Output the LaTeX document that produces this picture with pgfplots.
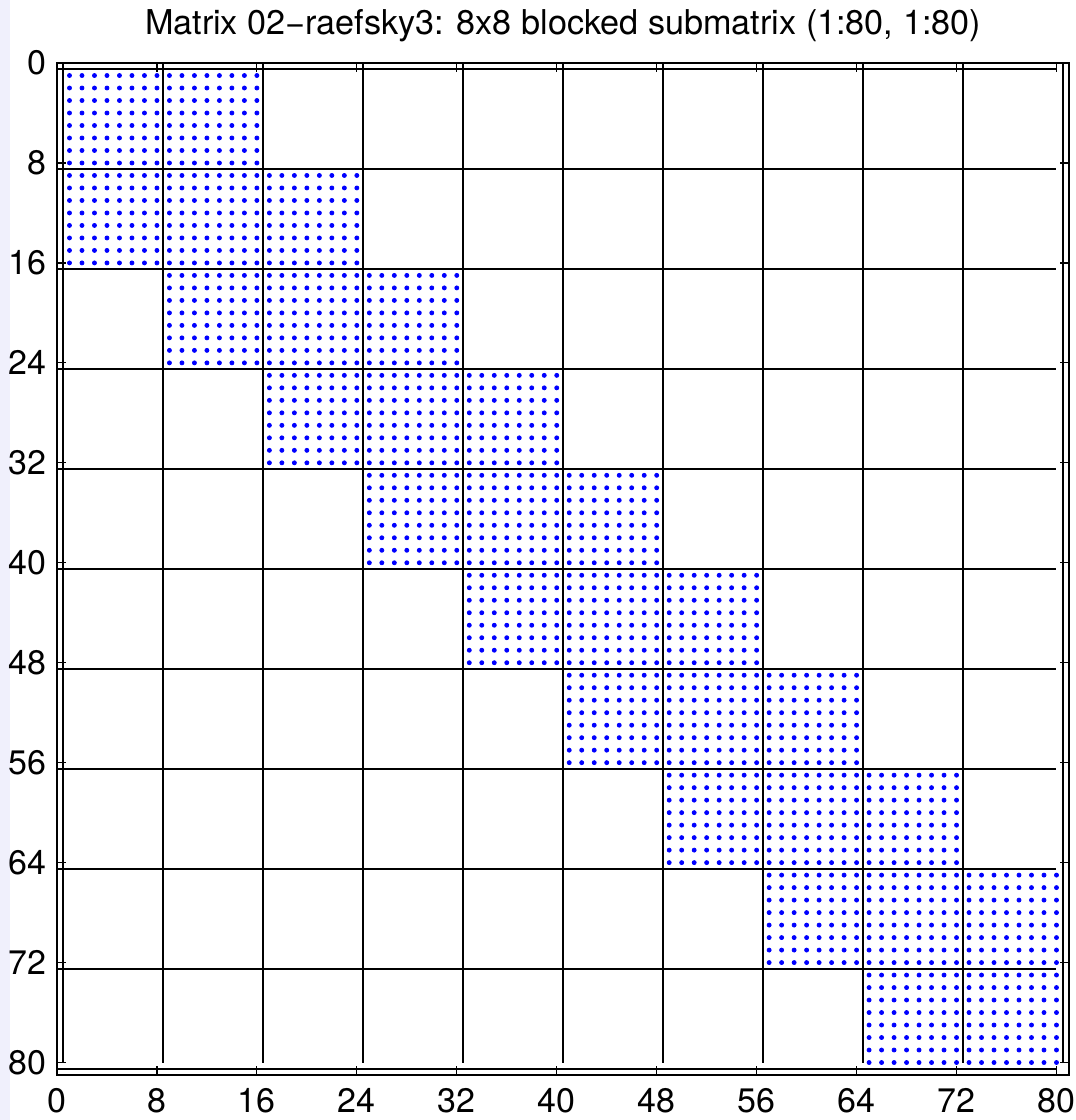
\documentclass[border=0pt]{standalone}
\usepackage{pgfplots}
\pgfplotsset{compat=1.18}
\usepackage{pgfplotstable}
\usepackage{fontspec}
\setmainfont{TeX Gyre Heros}
\definecolor{lav}{RGB}{240,240,252}
\definecolor{dotblue}{RGB}{0,0,255}

% nonzero pattern: row index, then the column indices of its nonzeros
\pgfplotstableread{
1 1 2 3 4 5 6 7 8 9 10 11 12 13 14 15 16 nan nan nan nan nan nan nan nan
2 1 2 3 4 5 6 7 8 9 10 11 12 13 14 15 16 nan nan nan nan nan nan nan nan
3 1 2 3 4 5 6 7 8 9 10 11 12 13 14 15 16 nan nan nan nan nan nan nan nan
4 1 2 3 4 5 6 7 8 9 10 11 12 13 14 15 16 nan nan nan nan nan nan nan nan
5 1 2 3 4 5 6 7 8 9 10 11 12 13 14 15 16 nan nan nan nan nan nan nan nan
6 1 2 3 4 5 6 7 8 9 10 11 12 13 14 15 16 nan nan nan nan nan nan nan nan
7 1 2 3 4 5 6 7 8 9 10 11 12 13 14 15 16 nan nan nan nan nan nan nan nan
8 1 2 3 4 5 6 7 8 9 10 11 12 13 14 15 16 nan nan nan nan nan nan nan nan
9 1 2 3 4 5 6 7 8 9 10 11 12 13 14 15 16 17 18 19 20 21 22 23 24
10 1 2 3 4 5 6 7 8 9 10 11 12 13 14 15 16 17 18 19 20 21 22 23 24
11 1 2 3 4 5 6 7 8 9 10 11 12 13 14 15 16 17 18 19 20 21 22 23 24
12 1 2 3 4 5 6 7 8 9 10 11 12 13 14 15 16 17 18 19 20 21 22 23 24
13 1 2 3 4 5 6 7 8 9 10 11 12 13 14 15 16 17 18 19 20 21 22 23 24
14 1 2 3 4 5 6 7 8 9 10 11 12 13 14 15 16 17 18 19 20 21 22 23 24
15 1 2 3 4 5 6 7 8 9 10 11 12 13 14 15 16 17 18 19 20 21 22 23 24
16 1 2 3 4 5 6 7 8 9 10 11 12 13 14 15 16 17 18 19 20 21 22 23 24
17 9 10 11 12 13 14 15 16 17 18 19 20 21 22 23 24 25 26 27 28 29 30 31 32
18 9 10 11 12 13 14 15 16 17 18 19 20 21 22 23 24 25 26 27 28 29 30 31 32
19 9 10 11 12 13 14 15 16 17 18 19 20 21 22 23 24 25 26 27 28 29 30 31 32
20 9 10 11 12 13 14 15 16 17 18 19 20 21 22 23 24 25 26 27 28 29 30 31 32
21 9 10 11 12 13 14 15 16 17 18 19 20 21 22 23 24 25 26 27 28 29 30 31 32
22 9 10 11 12 13 14 15 16 17 18 19 20 21 22 23 24 25 26 27 28 29 30 31 32
23 9 10 11 12 13 14 15 16 17 18 19 20 21 22 23 24 25 26 27 28 29 30 31 32
24 9 10 11 12 13 14 15 16 17 18 19 20 21 22 23 24 25 26 27 28 29 30 31 32
25 17 18 19 20 21 22 23 24 25 26 27 28 29 30 31 32 33 34 35 36 37 38 39 40
26 17 18 19 20 21 22 23 24 25 26 27 28 29 30 31 32 33 34 35 36 37 38 39 40
27 17 18 19 20 21 22 23 24 25 26 27 28 29 30 31 32 33 34 35 36 37 38 39 40
28 17 18 19 20 21 22 23 24 25 26 27 28 29 30 31 32 33 34 35 36 37 38 39 40
29 17 18 19 20 21 22 23 24 25 26 27 28 29 30 31 32 33 34 35 36 37 38 39 40
30 17 18 19 20 21 22 23 24 25 26 27 28 29 30 31 32 33 34 35 36 37 38 39 40
31 17 18 19 20 21 22 23 24 25 26 27 28 29 30 31 32 33 34 35 36 37 38 39 40
32 17 18 19 20 21 22 23 24 25 26 27 28 29 30 31 32 33 34 35 36 37 38 39 40
33 25 26 27 28 29 30 31 32 33 34 35 36 37 38 39 40 41 42 43 44 45 46 47 48
34 25 26 27 28 29 30 31 32 33 34 35 36 37 38 39 40 41 42 43 44 45 46 47 48
35 25 26 27 28 29 30 31 32 33 34 35 36 37 38 39 40 41 42 43 44 45 46 47 48
36 25 26 27 28 29 30 31 32 33 34 35 36 37 38 39 40 41 42 43 44 45 46 47 48
37 25 26 27 28 29 30 31 32 33 34 35 36 37 38 39 40 41 42 43 44 45 46 47 48
38 25 26 27 28 29 30 31 32 33 34 35 36 37 38 39 40 41 42 43 44 45 46 47 48
39 25 26 27 28 29 30 31 32 33 34 35 36 37 38 39 40 41 42 43 44 45 46 47 48
40 25 26 27 28 29 30 31 32 33 34 35 36 37 38 39 40 41 42 43 44 45 46 47 48
41 33 34 35 36 37 38 39 40 41 42 43 44 45 46 47 48 49 50 51 52 53 54 55 56
42 33 34 35 36 37 38 39 40 41 42 43 44 45 46 47 48 49 50 51 52 53 54 55 56
43 33 34 35 36 37 38 39 40 41 42 43 44 45 46 47 48 49 50 51 52 53 54 55 56
44 33 34 35 36 37 38 39 40 41 42 43 44 45 46 47 48 49 50 51 52 53 54 55 56
45 33 34 35 36 37 38 39 40 41 42 43 44 45 46 47 48 49 50 51 52 53 54 55 56
46 33 34 35 36 37 38 39 40 41 42 43 44 45 46 47 48 49 50 51 52 53 54 55 56
47 33 34 35 36 37 38 39 40 41 42 43 44 45 46 47 48 49 50 51 52 53 54 55 56
48 33 34 35 36 37 38 39 40 41 42 43 44 45 46 47 48 49 50 51 52 53 54 55 56
49 41 42 43 44 45 46 47 48 49 50 51 52 53 54 55 56 57 58 59 60 61 62 63 64
50 41 42 43 44 45 46 47 48 49 50 51 52 53 54 55 56 57 58 59 60 61 62 63 64
51 41 42 43 44 45 46 47 48 49 50 51 52 53 54 55 56 57 58 59 60 61 62 63 64
52 41 42 43 44 45 46 47 48 49 50 51 52 53 54 55 56 57 58 59 60 61 62 63 64
53 41 42 43 44 45 46 47 48 49 50 51 52 53 54 55 56 57 58 59 60 61 62 63 64
54 41 42 43 44 45 46 47 48 49 50 51 52 53 54 55 56 57 58 59 60 61 62 63 64
55 41 42 43 44 45 46 47 48 49 50 51 52 53 54 55 56 57 58 59 60 61 62 63 64
56 41 42 43 44 45 46 47 48 49 50 51 52 53 54 55 56 57 58 59 60 61 62 63 64
57 49 50 51 52 53 54 55 56 57 58 59 60 61 62 63 64 65 66 67 68 69 70 71 72
58 49 50 51 52 53 54 55 56 57 58 59 60 61 62 63 64 65 66 67 68 69 70 71 72
59 49 50 51 52 53 54 55 56 57 58 59 60 61 62 63 64 65 66 67 68 69 70 71 72
60 49 50 51 52 53 54 55 56 57 58 59 60 61 62 63 64 65 66 67 68 69 70 71 72
61 49 50 51 52 53 54 55 56 57 58 59 60 61 62 63 64 65 66 67 68 69 70 71 72
62 49 50 51 52 53 54 55 56 57 58 59 60 61 62 63 64 65 66 67 68 69 70 71 72
63 49 50 51 52 53 54 55 56 57 58 59 60 61 62 63 64 65 66 67 68 69 70 71 72
64 49 50 51 52 53 54 55 56 57 58 59 60 61 62 63 64 65 66 67 68 69 70 71 72
65 57 58 59 60 61 62 63 64 65 66 67 68 69 70 71 72 73 74 75 76 77 78 79 80
66 57 58 59 60 61 62 63 64 65 66 67 68 69 70 71 72 73 74 75 76 77 78 79 80
67 57 58 59 60 61 62 63 64 65 66 67 68 69 70 71 72 73 74 75 76 77 78 79 80
68 57 58 59 60 61 62 63 64 65 66 67 68 69 70 71 72 73 74 75 76 77 78 79 80
69 57 58 59 60 61 62 63 64 65 66 67 68 69 70 71 72 73 74 75 76 77 78 79 80
70 57 58 59 60 61 62 63 64 65 66 67 68 69 70 71 72 73 74 75 76 77 78 79 80
71 57 58 59 60 61 62 63 64 65 66 67 68 69 70 71 72 73 74 75 76 77 78 79 80
72 57 58 59 60 61 62 63 64 65 66 67 68 69 70 71 72 73 74 75 76 77 78 79 80
73 65 66 67 68 69 70 71 72 73 74 75 76 77 78 79 80 nan nan nan nan nan nan nan nan
74 65 66 67 68 69 70 71 72 73 74 75 76 77 78 79 80 nan nan nan nan nan nan nan nan
75 65 66 67 68 69 70 71 72 73 74 75 76 77 78 79 80 nan nan nan nan nan nan nan nan
76 65 66 67 68 69 70 71 72 73 74 75 76 77 78 79 80 nan nan nan nan nan nan nan nan
77 65 66 67 68 69 70 71 72 73 74 75 76 77 78 79 80 nan nan nan nan nan nan nan nan
78 65 66 67 68 69 70 71 72 73 74 75 76 77 78 79 80 nan nan nan nan nan nan nan nan
79 65 66 67 68 69 70 71 72 73 74 75 76 77 78 79 80 nan nan nan nan nan nan nan nan
80 65 66 67 68 69 70 71 72 73 74 75 76 77 78 79 80 nan nan nan nan nan nan nan nan
}\spy

% block grid lines (x y, nan separates segments)
\pgfplotstableread{
x y
0.5 0
0.5 80
nan nan
8.5 0
8.5 80
nan nan
16.5 0
16.5 80
nan nan
24.5 0
24.5 80
nan nan
32.5 0
32.5 80
nan nan
40.5 0
40.5 80
nan nan
48.5 0
48.5 80
nan nan
56.5 0
56.5 80
nan nan
64.5 0
64.5 80
nan nan
72.5 0
72.5 80
nan nan
80.5 0
80.5 80
nan nan
0 0.5
80 0.5
nan nan
0 8.5
80 8.5
nan nan
0 16.5
80 16.5
nan nan
0 24.5
80 24.5
nan nan
0 32.5
80 32.5
nan nan
0 40.5
80 40.5
nan nan
0 48.5
80 48.5
nan nan
0 56.5
80 56.5
nan nan
0 64.5
80 64.5
nan nan
0 72.5
80 72.5
nan nan
0 80.5
80 80.5
}\gridtab

\begin{document}
\begin{tikzpicture}
\path (-28.5pt,-22.5pt) rectangle (509pt,537.5pt);
\fill[lav] (-28.5pt,-22.5pt) rectangle (-23.5pt,537.5pt);
\begin{axis}[
  at={(0,0)}, anchor=south west,
  scale only axis, width=506pt, height=506pt,
  xmin=0, xmax=81, ymin=0, ymax=81, y dir=reverse,
  xtick={0,8,...,80}, ytick={0,8,...,80},
  tick align=inside, major tick length=4.5pt,
  tick style={black, line width=0.6pt},
  axis line style={black, line width=1.3pt},
  /pgf/number format/assume math mode=true,
  tick label style={font=\fontsize{17}{20}\selectfont, inner sep=0pt},
  xticklabel style={anchor=north, yshift=-6.5pt},
  yticklabel style={anchor=east, xshift=-5pt},
  title={Matrix 02−raefsky3: 8x8 blocked submatrix (1:80, 1:80)},
  title style={font=\fontsize{17.1}{20}\selectfont, at={(0.5,1)}, anchor=base, yshift=8.5pt, inner sep=0pt},
  unbounded coords=jump,
  clip=false,
]
\addplot[black, line width=0.8pt] table[x=x, y=y] {\gridtab};
\pgfplotsinvokeforeach{1,...,24}{
  \addplot[only marks, mark=*, mark size=1pt, color=dotblue, mark options={draw=none, fill=dotblue}] table[x index=#1, y index=0] {\spy};
}
\end{axis}
\end{tikzpicture}
\end{document}
